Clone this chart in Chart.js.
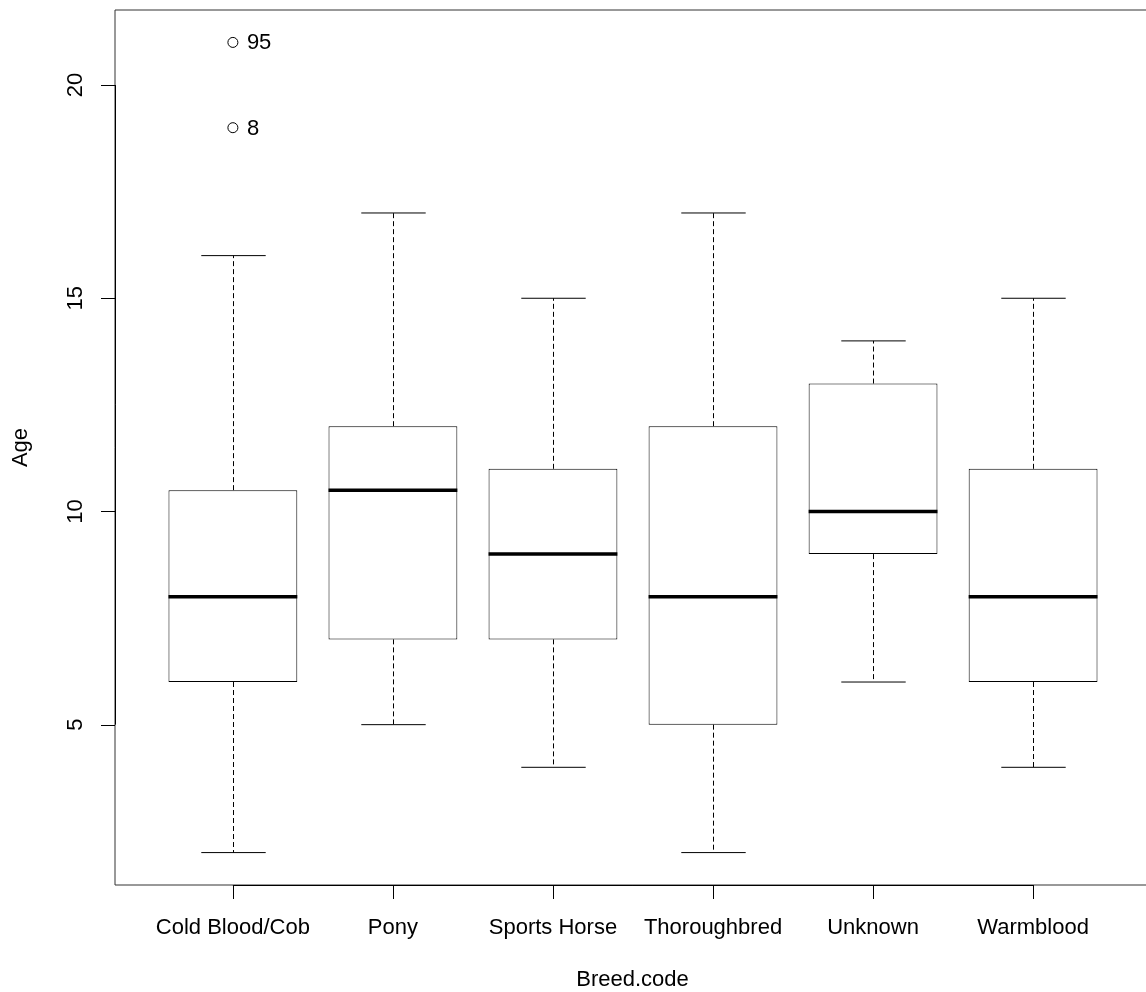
<!DOCTYPE html>
<html>
<head>
<meta charset="utf-8">
<script src="https://cdn.jsdelivr.net/npm/chart.js@4"></script>
<style>
  html, body { margin: 0; padding: 0; background: #ffffff; }
  #wrap { width: 1146px; height: 992px; }
</style>
</head>
<body>
<div id="wrap"><canvas id="c" width="1146" height="992"></canvas></div>
<script>
// Age by breed: five-number summaries per breed
const breeds       = ['Cold Blood/Cob', 'Pony', 'Sports Horse', 'Thoroughbred', 'Unknown', 'Warmblood'];
const whiskerLow   = [2, 5, 4, 2, 6, 4];
const lowerQuart   = [6, 7, 7, 5, 9, 6];
const medians      = [8, 10.5, 9, 8, 10, 8];
const upperQuart   = [10.5, 12, 11, 12, 13, 11];
const whiskerHigh  = [16, 17, 15, 17, 14, 15];

// Outlying horses (breed position, age, row id)
const outlierPos   = [1, 1];
const outlierAge   = [21, 19];
const outlierId    = ['95', '8'];

const yTicks = [5, 10, 15, 20];
const xTitle = 'Breed.code';
const yTitle = 'Age';

const FONT = '22px "Liberation Sans", Arial, Helvetica, sans-serif';
const INK = '#000000';

// Whiskers, caps, medians, axes and labels drawn through the chart's scales
const boxplotExtras = {
  id: 'boxplotExtras',
  beforeDatasetsDraw(chart) {
    const { ctx, scales: { x, y } } = chart;
    const meta = chart.getDatasetMeta(0);
    ctx.save();
    ctx.strokeStyle = INK;
    ctx.lineWidth = 1;
    breeds.forEach((b, i) => {
      const bar = meta.data[i];
      const cx = Math.round(x.getPixelForValue(i + 1)) + 0.5;
      const half = bar.width / 2;
      const capHalf = half / 2;
      const yLo = y.getPixelForValue(whiskerLow[i]);
      const yQ1 = y.getPixelForValue(lowerQuart[i]);
      const yQ3 = y.getPixelForValue(upperQuart[i]);
      const yHi = y.getPixelForValue(whiskerHigh[i]);
      // dashed whiskers
      ctx.setLineDash([5, 3]);
      ctx.beginPath();
      ctx.moveTo(cx, yQ3); ctx.lineTo(cx, yHi);
      ctx.moveTo(cx, yQ1); ctx.lineTo(cx, yLo);
      ctx.stroke();
      // solid caps
      ctx.setLineDash([]);
      ctx.beginPath();
      ctx.moveTo(cx - capHalf, yHi); ctx.lineTo(cx + capHalf, yHi);
      ctx.moveTo(cx - capHalf, yLo); ctx.lineTo(cx + capHalf, yLo);
      ctx.stroke();
    });
    ctx.restore();
  },
  afterDatasetsDraw(chart) {
    const { ctx, chartArea: area, scales: { x, y } } = chart;
    const meta = chart.getDatasetMeta(0);
    ctx.save();

    // medians
    ctx.strokeStyle = INK;
    ctx.lineWidth = 3.5;
    breeds.forEach((b, i) => {
      const bar = meta.data[i];
      const cx = x.getPixelForValue(i + 1);
      const half = bar.width / 2;
      const ym = y.getPixelForValue(medians[i]);
      ctx.beginPath();
      ctx.moveTo(cx - half, ym); ctx.lineTo(cx + half, ym);
      ctx.stroke();
    });

    // plot frame (runs off the right edge of the canvas)
    ctx.lineWidth = 1;
    ctx.strokeStyle = '#333333';
    ctx.beginPath();
    ctx.moveTo(chart.width + 2, area.top);
    ctx.lineTo(area.left, area.top);
    ctx.lineTo(area.left, area.bottom);
    ctx.lineTo(chart.width + 2, area.bottom);
    ctx.stroke();

    // bottom axis with tick marks
    ctx.strokeStyle = INK;
    const x0 = x.getPixelForValue(1);
    const x1 = x.getPixelForValue(breeds.length);
    ctx.beginPath();
    ctx.moveTo(x0, area.bottom + 0.5); ctx.lineTo(x1, area.bottom + 0.5);
    breeds.forEach((b, i) => {
      const px = Math.round(x.getPixelForValue(i + 1)) + 0.5;
      ctx.moveTo(px, area.bottom); ctx.lineTo(px, area.bottom + 14);
    });
    ctx.stroke();

    // left axis with tick marks
    const yA = y.getPixelForValue(yTicks[0]);
    const yB = y.getPixelForValue(yTicks[yTicks.length - 1]);
    ctx.beginPath();
    ctx.moveTo(area.left + 0.5, yA); ctx.lineTo(area.left + 0.5, yB);
    yTicks.forEach(t => {
      const py = Math.round(y.getPixelForValue(t)) + 0.5;
      ctx.moveTo(area.left, py); ctx.lineTo(area.left - 14, py);
    });
    ctx.stroke();

    // text
    ctx.fillStyle = INK;
    ctx.font = FONT;
    ctx.textAlign = 'center';
    ctx.textBaseline = 'alphabetic';
    breeds.forEach((b, i) => {
      ctx.fillText(b, x.getPixelForValue(i + 1), area.bottom + 49);
    });
    ctx.fillText(xTitle, (area.left + chart.width) / 2 + 2, area.bottom + 101);

    yTicks.forEach(t => {
      ctx.save();
      ctx.translate(area.left - 33, y.getPixelForValue(t));
      ctx.rotate(-Math.PI / 2);
      ctx.fillText(String(t), 0, 0);
      ctx.restore();
    });
    ctx.save();
    ctx.translate(27, (area.top + area.bottom) / 2);
    ctx.rotate(-Math.PI / 2);
    ctx.fillText(yTitle, 0, 0);
    ctx.restore();

    // outlier ids
    ctx.textAlign = 'left';
    ctx.textBaseline = 'middle';
    outlierAge.forEach((a, k) => {
      ctx.fillText(outlierId[k], x.getPixelForValue(outlierPos[k]) + 14, y.getPixelForValue(a) + 1);
    });

    ctx.restore();
  }
};

new Chart(document.getElementById('c'), {
  type: 'bar',
  data: {
    datasets: [
      {
        type: 'bar',
        data: breeds.map((b, i) => ({ x: i + 1, y: [lowerQuart[i], upperQuart[i]] })),
        backgroundColor: '#ffffff',
        borderColor: INK,
        borderWidth: 1,
        borderSkipped: false,
        categoryPercentage: 1,
        barPercentage: 0.805
      },
      {
        type: 'scatter',
        data: outlierAge.map((a, k) => ({ x: outlierPos[k], y: a })),
        pointStyle: 'circle',
        pointRadius: 5,
        pointBackgroundColor: '#ffffff',
        pointBorderColor: INK,
        pointBorderWidth: 1,
        showLine: false
      }
    ]
  },
  options: {
    responsive: false,
    animation: false,
    events: [],
    layout: { padding: { left: 115, top: 10, right: 0, bottom: 107 } },
    plugins: { legend: { display: false }, tooltip: { enabled: false } },
    scales: {
      x: {
        type: 'linear', min: 0.2634, max: 6.668, offset: false, display: false,
        // one tick per breed so bar widths follow the breed spacing
        afterBuildTicks: (scale) => { scale.ticks = breeds.map((b, i) => ({ value: i + 1 })); }
      },
      y: { type: 'linear', min: 1.24, max: 21.76, display: false }
    }
  },
  plugins: [boxplotExtras]
});
</script>
</body>
</html>
